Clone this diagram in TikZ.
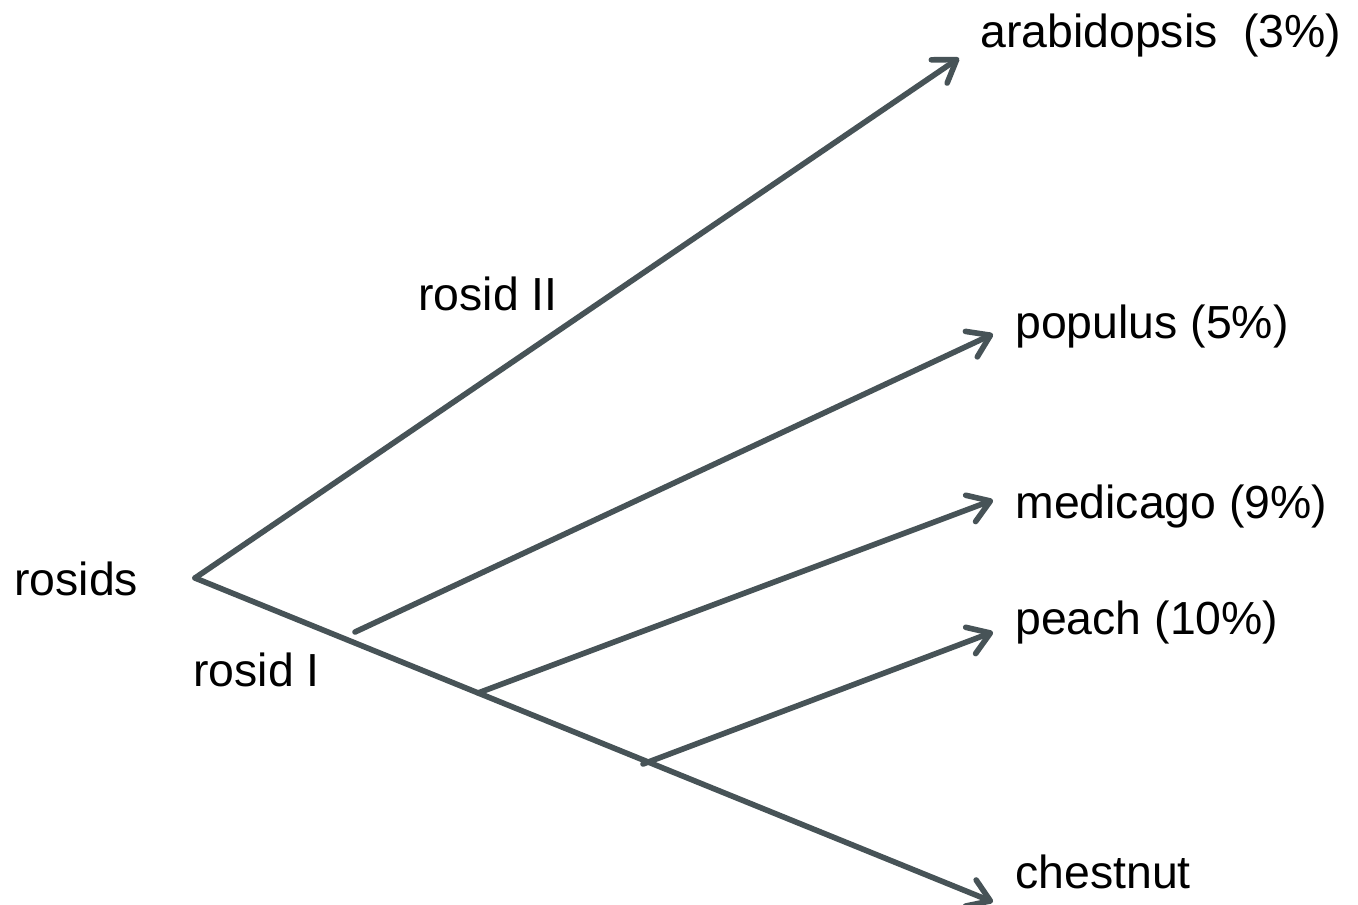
\documentclass[tikz,border=0pt]{standalone}
\usepackage{fontspec}
\setmainfont{Liberation Sans}
\usetikzlibrary{arrows.meta}
\definecolor{branch}{HTML}{475357}
\tikzset{
  br/.style={draw=branch, line width=3.2pt, line cap=round},
  arr/.style={br, -{Straight Barb[length=12pt,width=16pt,line cap=round,line join=round]}},
  lbl/.style={font=\fontsize{26.4}{30}\selectfont, anchor=base west, inner sep=0pt, text=black}
}
\begin{document}
\begin{tikzpicture}[x=0.02cm,y=-0.02cm]
\useasboundingbox (0,0) rectangle (1358,904);
% points
\coordinate (root) at (195,578);
\coordinate (p1) at (355,632);
\coordinate (p2) at (478,693);
\coordinate (p3) at (643,764);
\coordinate (tA) at (959,58);
\coordinate (tP) at (993,334);
\coordinate (tM) at (993,500);
\coordinate (tPe) at (993,632);
\coordinate (tC) at (993,902);
% labels
\node[lbl] (rosids) at (14,595) {rosids};
\node[lbl] (r2) at (418,310) {rosid II};
\node[lbl] (r1) at (193,686) {rosid I};
\node[lbl] (ara) at (980,47) {arabidopsis\ \ (3\%)};
\node[lbl] (pop) at (1015,338) {populus (5\%)};
\node[lbl] (med) at (1015,518) {medicago (9\%)};
\node[lbl] (pea) at (1015,634) {peach (10\%)};
\node[lbl] (che) at (1015,888) {chestnut};
% branches
\draw[arr] (root) -- (tA);
\draw[arr] (root) -- (tC);
\draw[arr] (p1) -- (tP);
\draw[arr] (p2) -- (tM);
\draw[arr] (p3) -- (tPe);
\end{tikzpicture}
\end{document}
